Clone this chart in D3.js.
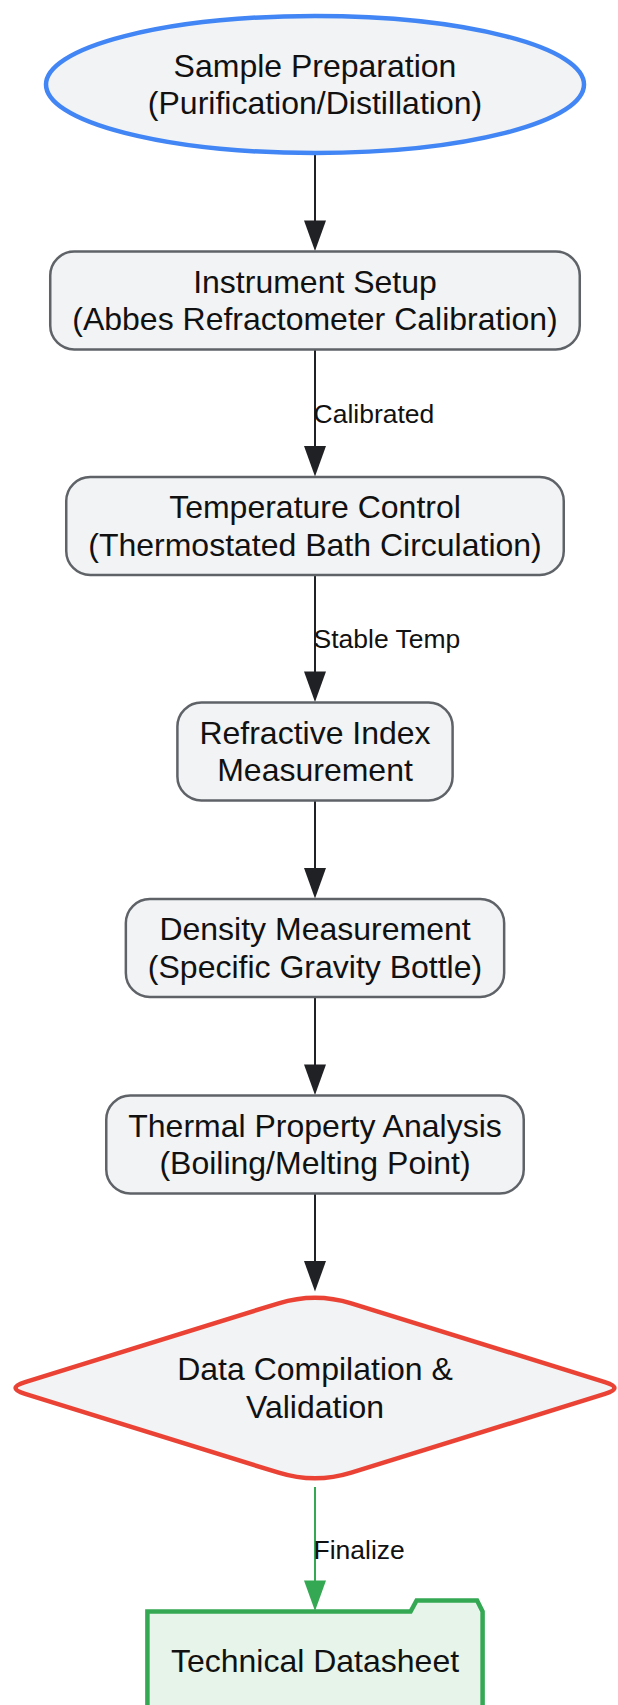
<!DOCTYPE html>
<html>
<head>
<meta charset="utf-8">
<script src="https://cdn.jsdelivr.net/npm/d3@7"></script>
<style>
  html, body { margin: 0; padding: 0; background: #fff; }
  svg { display: block; font-family: "Liberation Sans", Arial, sans-serif; }
</style>
</head>
<body>
<svg id="flow" width="618" height="1705"></svg>
<script>
// flow steps, top to bottom
var nodeLabels = [
  ["Sample Preparation", "(Purification/Distillation)"],
  ["Instrument Setup", "(Abbes Refractometer Calibration)"],
  ["Temperature Control", "(Thermostated Bath Circulation)"],
  ["Refractive Index", "Measurement"],
  ["Density Measurement", "(Specific Gravity Bottle)"],
  ["Thermal Property Analysis", "(Boiling/Melting Point)"],
  ["Data Compilation &", "Validation"],
  ["Technical Datasheet"]
]
var nodeShapes = ["ellipse", "round", "round", "round", "round", "round", "diamond", "folder"]
var nodeStyles = ["start", "step", "step", "step", "step", "step", "check", "done"]

// edges i -> i+1
var edgeLabels = ["", "Calibrated", "Stable Temp", "", "", "", "Finalize"]
var edgeStyles = ["plain", "plain", "plain", "plain", "plain", "plain", "ok"]

var colors = {
  start: {fill: "#f1f3f4", stroke: "#4285f4", width: 4.5},
  step: {fill: "#f1f3f4", stroke: "#5f6368", width: 2.5},
  check: {fill: "#f1f3f4", stroke: "#ea4335", width: 4.5},
  done: {fill: "#e6f4ea", stroke: "#34a853", width: 4.5},
  plain: "#202124",
  ok: "#34a853"
}

var svg = d3.select('#flow')
var width = +svg.attr('width')
var cx = width / 2 + 6
var fontSize = 32, lineH = 37.5, edgeFont = 26.5

var shapeH = {ellipse: 137, round: 98, diamond: 192, folder: 98}

// stack nodes vertically
var nodes = []
var yPos = 16
nodeLabels.forEach(function(lines, i){
  var h = shapeH[nodeShapes[i]]
  nodes.push({lines: lines, shape: nodeShapes[i], style: nodeStyles[i], top: yPos, h: h, cy: yPos + h/2})
  if(i < edgeLabels.length){
    yPos = yPos + h + (edgeLabels[i] ? 127.5 : 98.5)
  }
})

// measure text to size the boxes
var measure = svg.append('text').style('font-size', fontSize + 'px')
nodes.forEach(function(n){
  n.textW = d3.max(n.lines, function(l){ measure.text(l); return measure.node().getComputedTextLength() })
})
measure.remove()

var gEdges = svg.append('g')
var gNodes = svg.append('g')

// edges
edgeLabels.forEach(function(lab, i){
  var a = nodes[i], b = nodes[i+1]
  var y1 = a.top + a.h + (a.shape == 'diamond' ? 3 : 0)
  var y2 = b.top
  var col = colors[edgeStyles[i]]
  gEdges.append('line')
    .attr('x1', cx).attr('x2', cx)
    .attr('y1', y1).attr('y2', y2 - 20)
    .style('stroke', col)
    .style('stroke-width', 2)
  gEdges.append('path')
    .attr('d', 'M' + (cx - 11) + ',' + (y2 - 31) + 'L' + (cx + 11) + ',' + (y2 - 31) + 'L' + cx + ',' + (y2 - 0.5) + 'Z')
    .style('fill', col)
  if(lab){
    gEdges.append('text')
      .attr('x', cx - 1.5)
      .attr('y', (y1 + y2) / 2)
      .attr('dy', '0.36em')
      .text(lab)
      .style('font-size', edgeFont + 'px')
      .style('fill', '#111')
  }
})

// node shapes
nodes.forEach(function(n){
  var c = colors[n.style]
  var el
  if(n.shape == 'ellipse'){
    el = gNodes.append('ellipse')
      .attr('cx', cx).attr('cy', n.cy)
      .attr('rx', 269).attr('ry', n.h / 2)
  }else if(n.shape == 'round'){
    var w = n.textW + 44
    el = gNodes.append('rect')
      .attr('x', cx - w/2).attr('y', n.top)
      .attr('width', w).attr('height', n.h)
      .attr('rx', 24).attr('ry', 24)
  }else if(n.shape == 'diamond'){
    var hw = 309, hh = n.h / 2
    var pts = [[cx, n.cy - hh], [cx + hw, n.cy], [cx, n.cy + hh], [cx - hw, n.cy]]
    var radii = [38, 20, 38, 20]
    var d = ''
    pts.forEach(function(p, k){
      var r = radii[k]
      var prev = pts[(k + 3) % 4], next = pts[(k + 1) % 4]
      var l1 = Math.hypot(p[0] - prev[0], p[1] - prev[1])
      var l2 = Math.hypot(next[0] - p[0], next[1] - p[1])
      var s = [p[0] + (prev[0] - p[0]) * r / l1, p[1] + (prev[1] - p[1]) * r / l1]
      var e = [p[0] + (next[0] - p[0]) * r / l2, p[1] + (next[1] - p[1]) * r / l2]
      d += (k == 0 ? 'M' : 'L') + s[0] + ',' + s[1] + 'Q' + p[0] + ',' + p[1] + ' ' + e[0] + ',' + e[1]
    })
    el = gNodes.append('path').attr('d', d + 'Z')
  }else{
    var w2 = n.textW + 47
    var x0 = cx - w2/2, x1 = cx + w2/2, t = n.top, b = n.top + n.h
    var fd = 'M' + x0 + ',' + t + 'L' + (x1 - 72) + ',' + t + 'L' + (x1 - 66) + ',' + (t - 11) +
      'L' + (x1 - 5.5) + ',' + (t - 11) + 'L' + x1 + ',' + t + 'L' + x1 + ',' + b + 'L' + x0 + ',' + b + 'Z'
    el = gNodes.append('path').attr('d', fd)
  }
  el.style('fill', c.fill).style('stroke', c.stroke).style('stroke-width', c.width)

  var first = n.cy - (n.lines.length - 1) * lineH / 2
  gNodes.append('text')
    .attr('text-anchor', 'middle')
    .style('font-size', fontSize + 'px')
    .style('fill', '#111')
    .selectAll('tspan')
    .data(n.lines)
    .enter().append('tspan')
      .attr('x', cx)
      .attr('y', function(d, k){ return first + k * lineH })
      .attr('dy', '0.35em')
      .text(function(d){ return d })
})
</script>
</body>
</html>
